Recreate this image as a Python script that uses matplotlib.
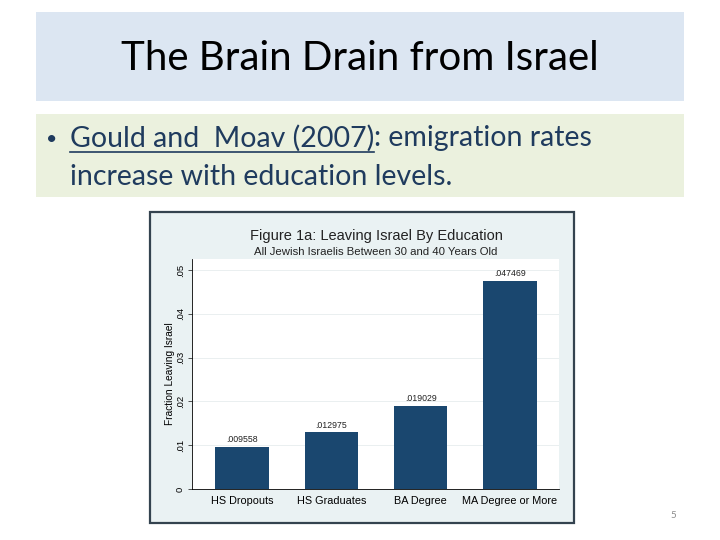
import matplotlib
matplotlib.use("Agg")
import matplotlib.pyplot as plt
from matplotlib.patches import Rectangle
from matplotlib.lines import Line2D
import numpy as np

# data
categories = ["HS Dropouts", "HS Graduates", "BA Degree", "MA Degree or More"]
fractions = [0.009558, 0.012975, 0.019029, 0.047469]
bar_labels = [".009558", ".012975", ".019029", ".047469"]
y_ticks = [0, 0.01, 0.02, 0.03, 0.04, 0.05]
y_tick_labels = ["0", ".01", ".02", ".03", ".04", ".05"]

W, H = 720, 540
fig = plt.figure(figsize=(7.2, 5.4), dpi=100)
fig.patch.set_facecolor("white")


def px_rect(x0, y0, x1, y1, **kw):
    # rectangle given in pixel coords (origin top-left)
    r = Rectangle((x0 / W, 1 - y1 / H), (x1 - x0) / W, (y1 - y0) / H,
                  transform=fig.transFigure, zorder=-5, **kw)
    fig.patches.append(r)
    return r


text_blue = "#1f3b5e"
slide_font = "Lato"

# slide title box
px_rect(36, 12, 684, 101, facecolor="#dce6f2", edgecolor="none")
fig.text(0.5, 1 - 58 / H, "The Brain Drain from Israel", ha="center", va="center",
         fontsize=29, family=slide_font, color="black")

# bullet box
px_rect(36, 114, 684, 197, facecolor="#ebf1de", edgecolor="none")
fs = 20.5
fig.text(46 / W, 1 - 139 / H, "\u2022", ha="left", va="center", fontsize=14,
         family=slide_font, color=text_blue)
t1 = fig.text(70 / W, 1 - 138 / H, "Gould and  Moav (2007)", ha="left", va="center",
              fontsize=fs, family=slide_font, color=text_blue)
fig.canvas.draw()
bb = t1.get_window_extent().transformed(fig.transFigure.inverted())
fig.text(bb.x1, 1 - 138 / H, ": emigration rates", ha="left", va="center",
         fontsize=fs, family=slide_font, color=text_blue)
fig.lines.append(Line2D([bb.x0, bb.x1], [1 - 152 / H, 1 - 152 / H],
                        transform=fig.transFigure, color=text_blue, lw=1.2))
fig.text(70 / W, 1 - 177 / H, "increase with education levels.", ha="left",
         va="center", fontsize=fs, family=slide_font, color=text_blue)

# embedded chart frame
px_rect(150, 212, 574, 523, facecolor="#eaf2f3", edgecolor="#34434f", lw=1.6)
fig.text(376 / W, 1 - 236 / H, "Figure 1a: Leaving Israel By Education",
         ha="center", va="center", fontsize=10.5, family="Liberation Sans",
         color="#222222")
fig.text(376 / W, 1 - 252 / H, "All Jewish Israelis Between 30 and 40 Years Old",
         ha="center", va="center", fontsize=8.2, family="Liberation Sans",
         color="#222222")

ax = fig.add_axes([192 / W, 1 - 489 / H, (559 - 192) / W, (489 - 259) / H])
ax.set_facecolor("white")
x = np.arange(len(categories))
bars = ax.bar(x, fractions, width=0.6, color="#1a476f", zorder=3)
for xi, v, lab in zip(x, fractions, bar_labels):
    ax.text(xi, v + 0.0006, lab, ha="center", va="bottom", fontsize=6.3,
            family="Liberation Sans", color="#222222")
ax.set_xlim(-0.56, 3.55)
ax.set_ylim(0, 0.0525)
ax.set_yticks(y_ticks)
ax.set_yticklabels(y_tick_labels, rotation=90, va="center", fontsize=6.8,
                   family="Liberation Sans")
ax.set_xticks(x)
ax.set_xticklabels(categories, fontsize=7.8, family="Liberation Sans")
ax.tick_params(axis="x", length=0, pad=5)
ax.tick_params(axis="y", length=3, width=0.6, pad=2, color="#333333")
ax.grid(axis="y", color="#e6ecee", lw=0.6, zorder=0)
for s in ["top", "right"]:
    ax.spines[s].set_visible(False)
ax.spines["left"].set_linewidth(0.6)
ax.spines["bottom"].set_linewidth(0.6)
ax.set_ylabel("Fraction Leaving Israel", fontsize=7.3, family="Liberation Sans",
              labelpad=0.5)

# page number
fig.text(673 / W, 1 - 515 / H, "5", ha="center", va="center", fontsize=7,
         color="#8c8c8c", family=slide_font)

fig.savefig("out.png", dpi=100)
